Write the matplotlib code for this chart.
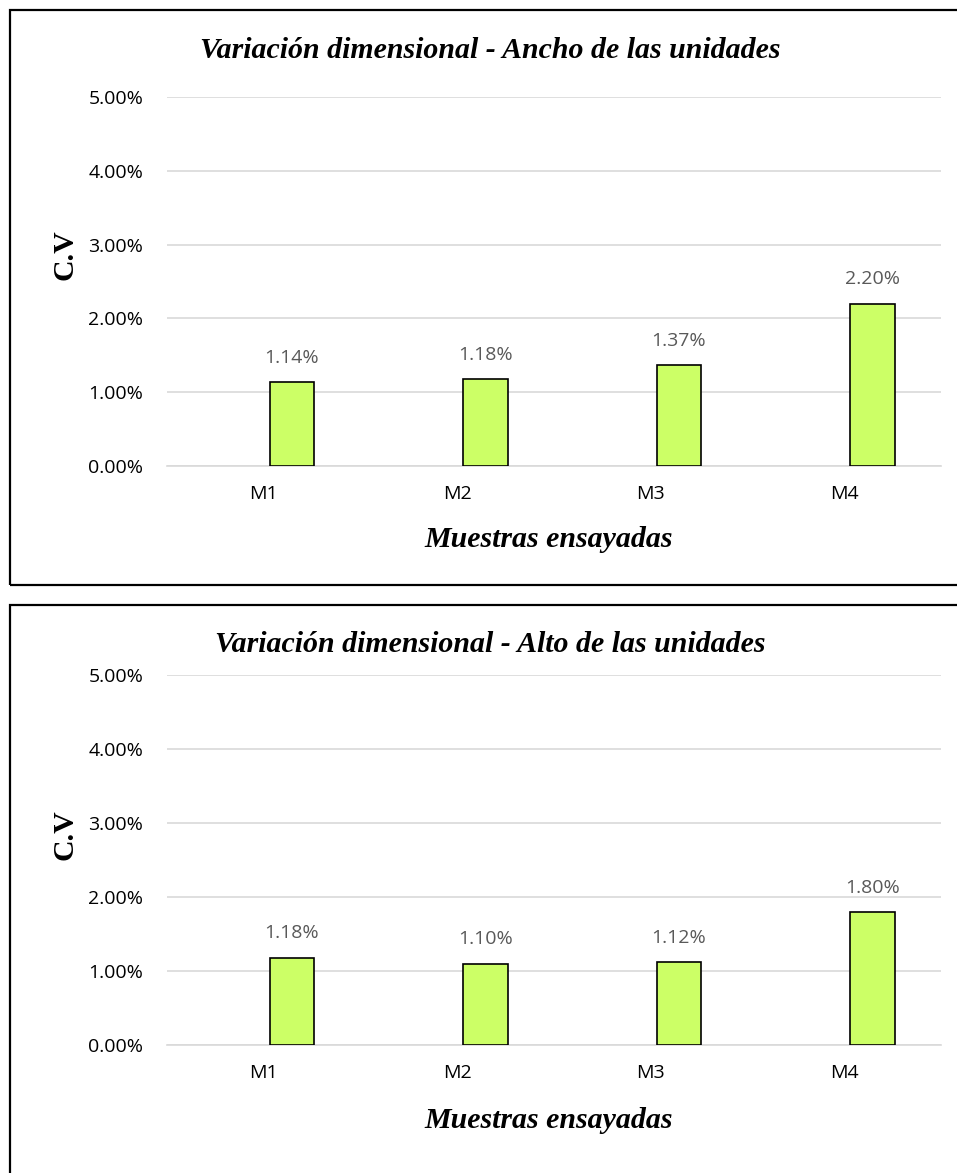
import numpy as np
import matplotlib.pyplot as plt
from matplotlib.patches import Rectangle
from matplotlib.ticker import FuncFormatter

muestras = ['M1', 'M2', 'M3', 'M4']
cv_ancho = [0.0114, 0.0118, 0.0137, 0.0220]
cv_alto = [0.0118, 0.0110, 0.0112, 0.0180]
titulos = ['Variación dimensional - Ancho de las unidades',
           'Variación dimensional - Alto de las unidades']

W, H = 957, 1173
fig = plt.figure(figsize=(W / 100, H / 100), dpi=100)

serif = 'Liberation Serif'
sans = 'Open Sans'
bar_color = '#ccff66'
grid_color = '#d9d9d9'
label_color = '#595959'

def fx(px):
    return px / W

def fy(py):
    return 1 - py / H

# (panel top, panel bottom, axes top, axes bottom, title y, xlabel y, ylabel y)
paneles = [
    (10, 585, 97, 466, 51, 540, 255),
    (605, 1180, 675, 1045, 644, 1120, 835),
]

for (ptop, pbot, atop, abot, ty, xly, yly), vals, titulo in zip(paneles, [cv_ancho, cv_alto], titulos):
    # panel border
    fig.patches.append(Rectangle((fx(10), fy(pbot)), fx(970) - fx(10), fy(ptop) - fy(pbot),
                                 transform=fig.transFigure, fill=False,
                                 edgecolor='black', linewidth=1.6))

    ax = fig.add_axes([fx(167), fy(abot), fx(941) - fx(167), fy(atop) - fy(abot)])
    ind = np.arange(len(muestras))
    # bars sit right of the category centre (empty first series in the original)
    rects = ax.bar(ind + 0.145, vals, 0.23, color=bar_color, edgecolor='black',
                   linewidth=1.2, zorder=3)

    ax.set_xlim(-0.5, len(muestras) - 0.5)
    ax.set_ylim(0, 0.05)
    ax.set_yticks(np.arange(0, 0.051, 0.01))
    ax.yaxis.set_major_formatter(FuncFormatter(lambda v, p: '%.2f%%' % (v * 100)))
    ax.set_xticks(ind)
    ax.set_xticklabels(muestras)
    ax.grid(axis='y', color=grid_color, linewidth=1.2, zorder=0)
    for s in ['top', 'right', 'left']:
        ax.spines[s].set_visible(False)
    ax.spines['bottom'].set_color(grid_color)
    ax.spines['bottom'].set_linewidth(1.2)
    ax.tick_params(axis='both', length=0, labelsize=14, colors='black')
    ax.tick_params(axis='y', pad=17)
    ax.tick_params(axis='x', pad=14)
    for lab in ax.get_xticklabels() + ax.get_yticklabels():
        lab.set_fontfamily(sans)

    for rect, v in zip(rects, vals):
        ax.annotate('%.2f%%' % (v * 100), (rect.get_x() + rect.get_width() / 2, v),
                    xytext=(0, 11), textcoords='offset points', ha='center', va='bottom',
                    fontsize=14, color=label_color, family=sans)

    fig.text(fx(490), fy(ty), titulo, ha='center', va='center', fontsize=21.5,
             family=serif, weight='bold', style='italic')
    fig.text(fx(549), fy(xly), 'Muestras ensayadas', ha='center', va='center', fontsize=21.5,
             family=serif, weight='bold', style='italic')
    fig.text(fx(65), fy(yly), 'C.V', ha='center', va='center', fontsize=21.5,
             family=serif, weight='bold', rotation=90)

fig.savefig('out.png', dpi=100)
